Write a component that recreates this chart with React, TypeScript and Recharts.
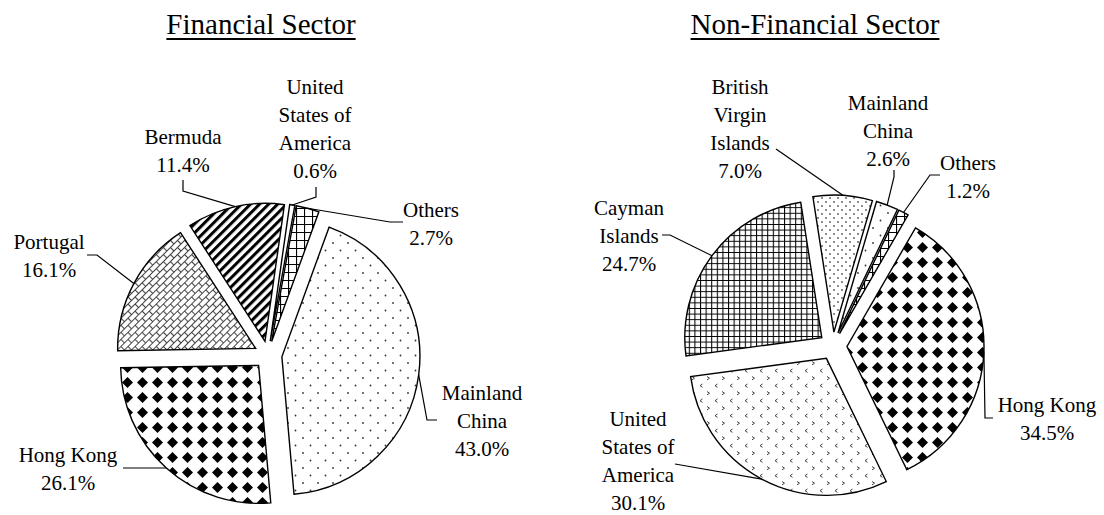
import { PieChart, Pie, Cell, Sector } from "recharts";

// Financial sector, clockwise from top
const finNames = ["Mainland China", "Hong Kong", "Portugal", "Bermuda", "United States of America", "Others"];
const finValues = [43.0, 26.1, 16.1, 11.4, 0.6, 2.7];
const finLabelLines = [["Mainland", "China"], ["Hong Kong"], ["Portugal"], ["Bermuda"], ["United", "States of", "America"], ["Others"]];

// Non-financial sector, clockwise from top
const nonFinNames = ["Hong Kong", "United States of America", "Cayman Islands", "British Virgin Islands", "Mainland China", "Others"];
const nonFinValues = [34.5, 30.1, 24.7, 7.0, 2.6, 1.2];
const nonFinLabelLines = [["Hong Kong"], ["United", "States of", "America"], ["Cayman", "Islands"], ["British", "Virgin", "Islands"], ["Mainland", "China"], ["Others"]];

const finFills = ["url(#dotsSparse)", "url(#diamonds)", "url(#bricks)", "url(#stripes)", "#ffffff", "url(#grid)"];
const nonFinFills = ["url(#diamonds)", "url(#chevrons)", "url(#gridFine)", "url(#dotsDense)", "url(#dotsSparse)", "url(#grid)"];

// label placement: first text line centre + leader elbow points (page px)
const finLabelPos = [
  { x: 482, y: 393, path: [[427, 420], [437, 420]] },
  { x: 68, y: 455, path: [[123, 468]] },
  { x: 49, y: 242, path: [[97, 255], [87, 255]] },
  { x: 183, y: 137, path: [[183, 191], [183, 180]] },
  { x: 315, y: 87, path: [[316, 197], [316, 187]] },
  { x: 431, y: 210, path: [[390, 222], [403, 222]] },
];
const nonFinLabelPos = [
  { x: 1047, y: 405, path: [[985, 418], [993, 418]] },
  { x: 638, y: 419, path: [[675, 464]] },
  { x: 629, y: 208, path: [[670, 235], [662, 235]] },
  { x: 740, y: 87, path: [[776, 149]] },
  { x: 888, y: 103, path: [[894, 177], [894, 170]] },
  { x: 968, y: 163, path: [[930, 175], [940, 175]] },
];

const RADIAN = Math.PI / 180;
const EXPLODE = 14;
const LINE_H = 28;
const FONT = "'Liberation Serif', 'Times New Roman', serif";

const explodedShape = (props: any) => {
  const a = -props.midAngle * RADIAN;
  return (
    <Sector
      {...props}
      cx={props.cx + EXPLODE * Math.cos(a)}
      cy={props.cy + EXPLODE * Math.sin(a)}
    />
  );
};

const makeLabel =
  (lines: string[][], layout: { x: number; y: number; path: number[][] }[]) =>
  (props: any) => {
    const { cx, cy, midAngle, outerRadius, index, value } = props;
    const a = -midAngle * RADIAN;
    const sx = cx + (outerRadius + EXPLODE) * Math.cos(a);
    const sy = cy + (outerRadius + EXPLODE) * Math.sin(a);
    const pos = layout[index];
    const pts = [[sx, sy], ...pos.path].map((p) => p.join(",")).join(" ");
    const text = [...lines[index], `${Number(value).toFixed(1)}%`];
    return (
      <g key={`lbl-${index}`}>
        <polyline points={pts} fill="none" stroke="#000" strokeWidth={1.2} />
        {text.map((t, i) => (
          <text
            key={i}
            x={pos.x}
            y={pos.y + i * LINE_H}
            textAnchor="middle"
            dominantBaseline="central"
            fontFamily={FONT}
            fontSize={21}
            fill="#000"
          >
            {t}
          </text>
        ))}
      </g>
    );
  };

const finData = finNames.map((name, i) => ({ name, value: finValues[i] }));
const nonFinData = nonFinNames.map((name, i) => ({ name, value: nonFinValues[i] }));

const titleStyle = (center: number): React.CSSProperties => ({
  position: "absolute",
  left: center - 200,
  top: 10,
  width: 400,
  textAlign: "center",
  fontFamily: FONT,
  fontSize: 29,
  lineHeight: "28px",
  textDecoration: "underline",
  textDecorationThickness: "1.5px",
  textUnderlineOffset: "4px",
  color: "#000",
});

const App = () => {
  return (
    <div style={{ position: "absolute", left: 0, top: 0, width: 1104, height: 515, background: "#fff" }}>
      <PieChart width={1104} height={515} style={{ position: "absolute", left: 0, top: 0 }}>
        <defs>
          <pattern id="dotsSparse" width="15" height="15" patternUnits="userSpaceOnUse">
            <rect width="15" height="15" fill="#fff" />
            <circle cx="3" cy="3" r="0.9" fill="#333" />
            <circle cx="10.5" cy="10.5" r="0.9" fill="#333" />
          </pattern>
          <pattern id="dotsDense" width="8" height="8" patternUnits="userSpaceOnUse">
            <rect width="8" height="8" fill="#fff" />
            <circle cx="2" cy="2" r="0.9" fill="#555" />
            <circle cx="6" cy="6" r="0.9" fill="#555" />
          </pattern>
          <pattern id="diamonds" width="15" height="15" patternUnits="userSpaceOnUse">
            <rect width="15" height="15" fill="#fff" />
            <path d="M7.5 2 L13 7.5 L7.5 13 L2 7.5 Z" fill="#000" />
          </pattern>
          <pattern id="stripes" width="6.4" height="6.4" patternUnits="userSpaceOnUse" patternTransform="rotate(45)">
            <rect width="6.4" height="6.4" fill="#fff" />
            <rect width="3" height="6.4" fill="#000" />
          </pattern>
          <pattern id="bricks" width="10" height="10" patternUnits="userSpaceOnUse" patternTransform="rotate(-45)">
            <rect width="10" height="10" fill="#fff" />
            <path d="M0 0.5 H10 M0 5.5 H10 M0.5 0.5 V5.5 M5.5 5.5 V10" stroke="#444" strokeWidth="1.1" fill="none" />
          </pattern>
          <pattern id="grid" width="8" height="8" patternUnits="userSpaceOnUse">
            <rect width="8" height="8" fill="#fff" />
            <path d="M0 0.5 H8 M0.5 0 V8" stroke="#000" strokeWidth="1.2" fill="none" />
          </pattern>
          <pattern id="gridFine" width="5.6" height="5.6" patternUnits="userSpaceOnUse">
            <rect width="5.6" height="5.6" fill="#fff" />
            <path d="M0 0.5 H5.6 M0.5 0 V5.6" stroke="#000" strokeWidth="1.1" fill="none" />
          </pattern>
          <pattern id="chevrons" width="15" height="15" patternUnits="userSpaceOnUse">
            <rect width="15" height="15" fill="#fff" />
            <path d="M2 1.5 L4.5 3.2 L2 4.9 M12.5 9 L10 10.7 L12.5 12.4" stroke="#444" strokeWidth="1" fill="none" />
          </pattern>
        </defs>
        <Pie
          data={finData}
          dataKey="value"
          nameKey="name"
          cx={263}
          cy={350}
          outerRadius={138}
          startAngle={70}
          endAngle={-290}
          stroke="#000"
          strokeWidth={1.4}
          shape={explodedShape}
          labelLine={false}
          label={makeLabel(finLabelLines, finLabelPos)}
          isAnimationActive={false}
        >
          {finData.map((_, i) => (
            <Cell key={`fin-${i}`} fill={finFills[i]} />
          ))}
        </Pie>
        <Pie
          data={nonFinData}
          dataKey="value"
          nameKey="name"
          cx={828}
          cy={341}
          outerRadius={137}
          startAngle={60}
          endAngle={-300}
          stroke="#000"
          strokeWidth={1.4}
          shape={explodedShape}
          labelLine={false}
          label={makeLabel(nonFinLabelLines, nonFinLabelPos)}
          isAnimationActive={false}
        >
          {nonFinData.map((_, i) => (
            <Cell key={`nonfin-${i}`} fill={nonFinFills[i]} />
          ))}
        </Pie>
      </PieChart>
      <div style={titleStyle(261)}>Financial Sector</div>
      <div style={titleStyle(815)}>Non-Financial Sector</div>
    </div>
  );
};

export default App;
